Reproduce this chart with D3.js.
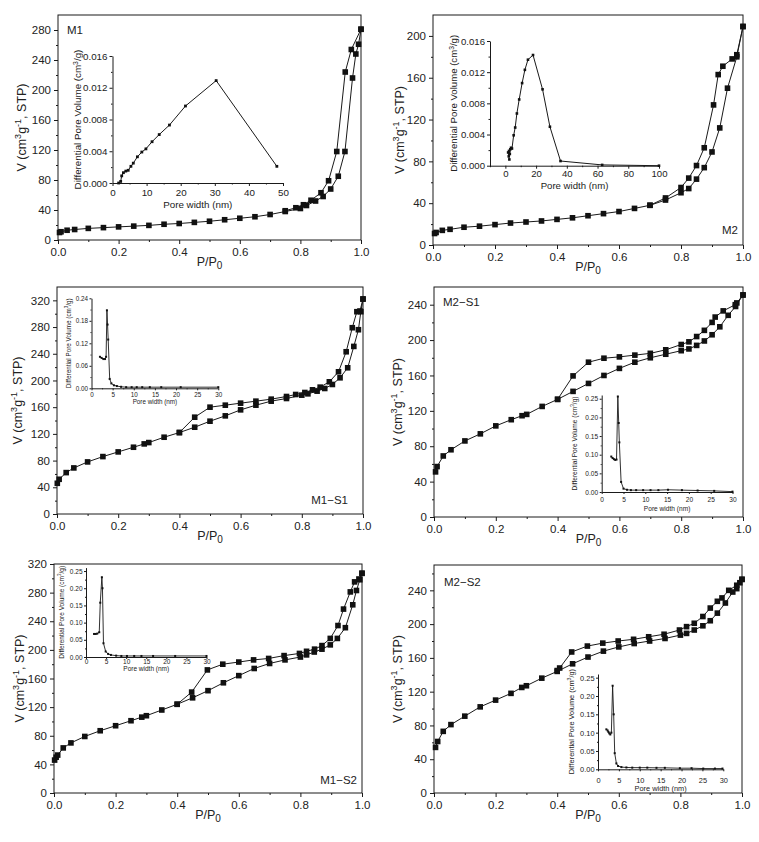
<!DOCTYPE html>
<html><head><meta charset="utf-8">
<script src="https://cdn.jsdelivr.net/npm/d3@7"></script>
<style>
body{margin:0;background:#fff}
svg{display:block}
text{font-family:"Liberation Sans",Arial,sans-serif;fill:#222}
</style>
</head><body>
<svg id="c" width="759" height="842"></svg>
<script>
// ---------- Isotherm data: [P/P0, V (cm3/g STP)] ----------
const m1Ads = [[0.005,10],[0.01,11],[0.03,13],[0.055,14],[0.1,15.5],[0.15,16.5],[0.2,17.5],[0.25,18.5],[0.3,19.5],[0.35,21],[0.4,22],[0.45,23.5],[0.5,25],[0.55,27],[0.6,29],[0.65,31],[0.7,34],[0.75,38],[0.8,42],[0.82,46],[0.85,52],[0.875,58],[0.9,68],[0.925,85],[0.947,118],[0.972,216],[0.983,248],[0.992,261],[1.0,281]];
const m1Des = [[1.0,281],[0.968,254],[0.948,224],[0.92,118],[0.893,79],[0.868,63],[0.835,53],[0.81,47],[0.785,43],[0.75,39]];

const m2Ads = [[0.005,11],[0.01,12],[0.03,14],[0.055,15],[0.1,17],[0.15,18],[0.2,19.5],[0.25,21],[0.3,22],[0.35,23],[0.4,24.5],[0.45,26],[0.5,28],[0.55,30],[0.6,32],[0.65,35],[0.7,38],[0.75,43],[0.8,50],[0.825,54],[0.85,63],[0.875,74],[0.9,89],[0.925,112],[0.95,150],[0.98,180],[1.0,209]];
const m2Des = [[1.0,209],[0.98,182],[0.965,178],[0.935,171],[0.92,163],[0.905,134],[0.875,93],[0.85,76],[0.825,64],[0.8,55],[0.75,45],[0.7,38]];

const m1s1Ads = [[0.001,46],[0.007,52],[0.03,62],[0.055,69],[0.1,78],[0.15,86],[0.2,93],[0.25,100],[0.285,105],[0.3,107],[0.35,115],[0.4,122],[0.45,130],[0.5,139],[0.55,147],[0.6,156],[0.65,163],[0.7,169],[0.75,173],[0.8,178],[0.82,180],[0.85,184],[0.875,188],[0.9,194],[0.925,204],[0.95,219],[0.97,251],[0.985,276],[0.993,303],[1.0,322]];
const m1s1Des = [[1.0,322],[0.99,304],[0.98,303],[0.965,279],[0.945,243],[0.92,213],[0.89,198],[0.86,190],[0.835,186],[0.81,182],[0.78,179],[0.75,176],[0.7,172],[0.65,169],[0.6,166],[0.55,163],[0.5,160],[0.45,145],[0.4,122]];

const m2s1Ads = [[0.005,51],[0.01,57],[0.03,69],[0.055,76],[0.1,86],[0.15,94],[0.2,103],[0.25,110],[0.285,114.5],[0.3,116],[0.35,125],[0.4,133],[0.45,142],[0.5,151],[0.55,160],[0.6,168],[0.65,175],[0.7,180],[0.75,184],[0.8,188],[0.825,190],[0.85,194],[0.875,199],[0.9,206],[0.925,215],[0.952,228],[0.976,238],[1.0,251]];
const m2s1Des = [[1.0,251],[0.98,242],[0.975,240],[0.936,233],[0.91,226],[0.9,220],[0.875,211],[0.85,204],[0.825,198],[0.8,195],[0.75,189],[0.7,185],[0.65,183],[0.6,181],[0.55,179.5],[0.5,175],[0.45,159.5],[0.4,133]];

const m1s2Ads = [[0.002,46],[0.007,50],[0.012,53],[0.03,63],[0.055,70],[0.1,79],[0.15,87],[0.2,94],[0.25,101],[0.285,106],[0.3,108],[0.35,116],[0.4,124],[0.45,133],[0.5,143],[0.55,154],[0.6,164],[0.65,174],[0.7,181],[0.75,186],[0.8,190],[0.82,193],[0.845,197],[0.87,201],[0.897,207],[0.92,216],[0.946,231],[0.97,263],[0.982,283],[0.993,298],[1.0,307]];
const m1s2Des = [[1.0,307],[0.99,299],[0.976,295],[0.962,281],[0.94,257],[0.922,234],[0.897,216],[0.87,206],[0.846,201],[0.82,198],[0.797,195],[0.747,192],[0.697,188],[0.648,186],[0.6,183],[0.548,180],[0.498,172],[0.447,141],[0.4,124]];

const m2s2Ads = [[0.005,54],[0.012,61],[0.03,73],[0.055,81],[0.1,91],[0.15,102],[0.2,110],[0.25,118],[0.285,125],[0.3,127],[0.35,136],[0.4,144],[0.45,153],[0.5,161],[0.55,168],[0.6,173],[0.65,177],[0.7,180],[0.75,183],[0.8,187],[0.82,189],[0.845,193],[0.873,198],[0.897,204],[0.92,213],[0.946,225],[0.97,238],[0.983,242],[0.993,249],[1.0,253]];
const m2s2Des = [[1.0,253],[0.983,246],[0.957,240],[0.935,231],[0.92,227],[0.897,219],[0.873,209],[0.845,201],[0.82,197],[0.797,193],[0.747,188],[0.697,185],[0.648,182],[0.598,180],[0.548,177.5],[0.498,174],[0.447,167],[0.408,148],[0.4,145]];

// ---------- Pore size distribution data: [pore width (nm), dV (cm3/g)] ----------
const m1Psd = [[1.8,0],[2.4,0.0002],[2.7,0.0009],[3.2,0.0013],[3.9,0.0015],[4.6,0.0016],[5.4,0.0021],[6.1,0.0025],[7.3,0.0033],[8.6,0.0039],[9.8,0.0043],[11.6,0.0052],[13.7,0.0061],[16.7,0.0073],[21.4,0.0097],[30.4,0.0129],[48.2,0.0021]];
const m2Psd = [[2.6,0.0008],[2.2,0.0012],[1.8,0.0017],[2.4,0.0019],[2.9,0.0015],[3.2,0.0021],[3.7,0.0023],[4.3,0.0022],[5.4,0.0039],[6.4,0.0049],[7.5,0.0067],[9.0,0.0085],[10.9,0.0106],[12.7,0.0123],[14.7,0.0136],[18.0,0.0142],[24.2,0.0098],[29.0,0.0050],[35.9,0.0006],[63,0.0001],[100,0.0]];
const m1s1Psd = [[2.0,0.084],[2.4,0.081],[2.8,0.078],[3.2,0.078],[3.45,0.084],[3.65,0.208],[3.8,0.17],[3.95,0.13],[4.3,0.025],[4.7,0.013],[5.3,0.008],[6.0,0.006],[7.0,0.004],[8.2,0.003],[9.5,0.003],[10.7,0.003],[12.0,0.003],[13.8,0.003],[16.5,0.003],[21.1,0.003],[30,0.003]];
const m2s1Psd = [[2.2,0.095],[2.5,0.091],[2.8,0.088],[3.1,0.086],[3.4,0.087],[3.7,0.256],[3.9,0.185],[4.05,0.133],[4.45,0.027],[5.0,0.009],[5.8,0.006],[6.7,0.005],[7.9,0.005],[9.5,0.005],[11.2,0.005],[13.0,0.005],[15.2,0.006],[18.4,0.005],[22.0,0.004],[25.8,0.003],[30,0.001]];
const m1s2Psd = [[2.0,0.067],[2.4,0.067],[2.8,0.068],[3.3,0.072],[3.55,0.158],[3.95,0.232],[4.1,0.2],[4.35,0.04],[4.9,0.016],[5.5,0.009],[6.2,0.006],[7.5,0.004],[8.8,0.003],[10.2,0.003],[12,0.003],[13.8,0.003],[16.7,0.003],[22.2,0.003],[30,0.003]];
const m2s2Psd = [[2.0,0.109],[2.3,0.106],[2.5,0.102],[2.7,0.098],[2.95,0.095],[3.2,0.1],[3.5,0.228],[3.75,0.15],[4.0,0.044],[4.4,0.016],[4.8,0.009],[5.6,0.006],[6.8,0.005],[8.2,0.0045],[10,0.0045],[11.8,0.0045],[14,0.004],[16,0.004],[19.6,0.003],[22.4,0.003],[25.2,0.002],[28,0.002],[29.8,0.002]];

// ---------- Tick labels ----------
const mainXTicks = [0,0.2,0.4,0.6,0.8,1.0];
const yTicks320 = [0,40,80,120,160,200,240,280,320];
const yTicks280 = [0,40,80,120,160,200,240,280];
const yTicks240 = [0,40,80,120,160,200,240];
const yTicks200 = [0,40,80,120,160,200];
const psdY016 = [0,0.004,0.008,0.012,0.016];
const psdY024 = [0,0.06,0.12,0.18,0.24];
const psdY025 = [0,0.05,0.10,0.15,0.20,0.25];
const pw50 = [0,10,20,30,40,50];
const pw100 = [0,20,40,60,80,100];
const pw30 = [0,5,10,15,20,25,30];
const sampleNames = ["M1","M2","M1\u2212S1","M2\u2212S1","M1\u2212S2","M2\u2212S2"];

// ---------- Layout ----------
const panels = [
 {ads:m1Ads, des:m1Des, yTicks:yTicks280, yMax:300, L:58, R:361, T:15, B:240, tag:sampleNames[0], tagX:67, tagY:34, tagA:"start", ytX:22,
  ins:{d:m1Psd, xDom:[0,50], xTicks:pw50, xMin:5, yDom:[0,0.016], yTicks:psdY016, yMin:0.002, fmt:".3f", L:112.5, R:283, T:56, B:183, fs:9.8, ytX:78, xtlY:196, xtY:207.5, ms:2.8}},
 {ads:m2Ads, des:m2Des, yTicks:yTicks200, yMax:220, L:433, R:743, T:15, B:245, tag:sampleNames[1], tagX:738, tagY:234, tagA:"end", ytX:400,
  ins:{d:m2Psd, xDom:[-10,100], xTicks:pw100, xMin:10, yDom:[0,0.016], yTicks:psdY016, yMin:0.002, fmt:".3f", L:490, R:659, T:41, B:165.7, fs:9.6, ytX:454, xtlY:177, xtY:189, ms:2.6}},
 {ads:m1s1Ads, des:m1s1Des, yTicks:yTicks320, yMax:340, L:57, R:363, T:287, B:514, tag:sampleNames[2], tagX:348, tagY:504, tagA:"end", ytX:18,
  ins:{d:m1s1Psd, xDom:[0,30], xTicks:pw30, xMin:2.5, yDom:[0,0.24], yTicks:psdY024, yMin:0.03, fmt:".2f", L:91.5, R:218.3, T:298.3, B:388.3, fs:6.3, ytX:68.5, xtlY:396.5, xtY:404, ms:2}},
 {ads:m2s1Ads, des:m2s1Des, yTicks:yTicks240, yMax:260, L:434, R:743, T:287, B:517, tag:sampleNames[3], tagX:443, tagY:306, tagA:"start", ytX:398,
  ins:{d:m2s1Psd, xDom:[0,30], xTicks:pw30, xMin:2.5, yDom:[0,0.26], yTicks:psdY025, yMin:0.025, fmt:".2f", L:601.7, R:732.5, T:395, B:492, fs:6.6, ytX:574.5, xtlY:501.5, xtY:510.5, ms:2}},
 {ads:m1s2Ads, des:m1s2Des, yTicks:yTicks320, yMax:320, L:54, R:362, T:564, B:793, tag:sampleNames[4], tagX:357, tagY:784, tagA:"end", ytX:20,
  ins:{d:m1s2Psd, xDom:[0,30], xTicks:pw30, xMin:2.5, yDom:[0,0.26], yTicks:psdY025, yMin:0.025, fmt:".2f", L:86, R:206.5, T:567.6, B:657, fs:6.5, ytX:61.5, xtlY:664, xtY:671, ms:2}},
 {ads:m2s2Ads, des:m2s2Des, yTicks:yTicks240, yMax:270, L:434, R:742, T:565, B:793, tag:sampleNames[5], tagX:444, tagY:586, tagA:"start", ytX:398,
  ins:{d:m2s2Psd, xDom:[0,30], xTicks:pw30, xMin:2.5, yDom:[0,0.26], yTicks:psdY025, yMin:0.025, fmt:".2f", L:598, R:723.3, T:674, B:769.3, fs:7.4, ytX:571.5, xtlY:782.5, xtY:790.5, ms:2}}
];

const svg = d3.select("#c");
const INK = "#1a1a1a";

function styleAxis(g, fs){
  g.selectAll("text").attr("font-size", fs).attr("font-family",'"Liberation Sans",Arial,sans-serif').attr("fill","#222");
  g.selectAll("line").attr("stroke", INK);
  g.selectAll(".domain").attr("stroke", INK);
}

function drawPanel(p){
  const x = d3.scaleLinear().domain([0,1]).range([p.L,p.R]);
  const y = d3.scaleLinear().domain([0,p.yMax]).range([p.B,p.T]);
  const g = svg.append("g");

  // minor ticks
  const yMinorVals = d3.range(20, p.yMax, 40);
  const gy2 = g.append("g").attr("transform",`translate(${p.L},0)`)
    .call(d3.axisLeft(y).tickValues(yMinorVals).tickSize(2).tickFormat(""));
  gy2.select(".domain").remove(); styleAxis(gy2, 11);
  const gx2 = g.append("g").attr("transform",`translate(0,${p.B})`)
    .call(d3.axisBottom(x).tickValues([0.1,0.3,0.5,0.7,0.9]).tickSize(2).tickFormat(""));
  gx2.select(".domain").remove(); styleAxis(gx2, 11);

  // major axes
  const gy = g.append("g").attr("transform",`translate(${p.L},0)`)
    .call(d3.axisLeft(y).tickValues(p.yTicks).tickSize(4).tickPadding(3).tickFormat(d3.format("d")));
  gy.select(".domain").remove(); styleAxis(gy, 11.5);
  const gx = g.append("g").attr("transform",`translate(0,${p.B})`)
    .call(d3.axisBottom(x).tickValues(mainXTicks).tickSize(4).tickPadding(4).tickFormat(d3.format(".1f")));
  gx.select(".domain").remove(); styleAxis(gx, 11.5);

  // frame
  g.append("rect").attr("x",p.L).attr("y",p.T).attr("width",p.R-p.L).attr("height",p.B-p.T)
    .attr("fill","none").attr("stroke",INK).attr("stroke-width",1);

  // inset first (under isotherm lines where overlapping)
  drawInset(g, p.ins);

  // isotherm lines
  const line = d3.line().x(d=>x(d[0])).y(d=>y(d[1]));
  [p.ads, p.des].forEach(s=>{
    g.append("path").attr("d", line(s)).attr("fill","none").attr("stroke",INK).attr("stroke-width",1);
    g.selectAll(null).data(s).enter().append("rect")
      .attr("x",d=>x(d[0])-2.8).attr("y",d=>y(d[1])-2.8).attr("width",5.6).attr("height",5.6).attr("fill","#111");
  });

  // sample tag
  g.append("text").attr("x",p.tagX).attr("y",p.tagY).attr("text-anchor",p.tagA).attr("font-size",11.5).text(p.tag);

  // y title
  const cy = (p.T+p.B)/2;
  const yt = g.append("text").attr("transform",`translate(${p.ytX},${cy}) rotate(-90)`)
    .attr("text-anchor","middle").attr("dy","0.35em").attr("font-size",12.5);
  yt.append("tspan").text("V (cm");
  yt.append("tspan").attr("dy",-5).attr("font-size",9).text("3");
  yt.append("tspan").attr("dy",5).text("g");
  yt.append("tspan").attr("dy",-5).attr("font-size",9).text("-1");
  yt.append("tspan").attr("dy",5).text(", STP)");

  // x title
  const xt = g.append("text").attr("x",(p.L+p.R)/2).attr("y",p.B+26).attr("text-anchor","middle").attr("font-size",12.5);
  xt.append("tspan").text("P/P");
  xt.append("tspan").attr("dy",3).attr("font-size",10).text("0");
}

function drawInset(g, s){
  const x = d3.scaleLinear().domain(s.xDom).range([s.L,s.R]);
  const y = d3.scaleLinear().domain(s.yDom).range([s.B,s.T]);
  const gi = g.append("g");
  const big = s.fs > 8;
  const tMaj = big ? 3 : 2, tMin = big ? 1.5 : 1;

  // minor ticks
  const xMinorVals = d3.range(s.xDom[0], s.xDom[1]+1e-9, s.xMin).filter(v=>!s.xTicks.some(t=>Math.abs(t-v)<1e-9));
  const yMinorVals = d3.range(s.yDom[0], s.yDom[1]+1e-9, s.yMin).filter(v=>!s.yTicks.some(t=>Math.abs(t-v)<1e-9));
  const gx2 = gi.append("g").attr("transform",`translate(0,${s.B})`)
    .call(d3.axisBottom(x).tickValues(xMinorVals).tickSize(tMin).tickFormat(""));
  gx2.select(".domain").remove(); styleAxis(gx2, s.fs);
  const gy2 = gi.append("g").attr("transform",`translate(${s.L},0)`)
    .call(d3.axisLeft(y).tickValues(yMinorVals).tickSize(tMin).tickFormat(""));
  gy2.select(".domain").remove(); styleAxis(gy2, s.fs);

  const gx = gi.append("g").attr("transform",`translate(0,${s.B})`)
    .call(d3.axisBottom(x).tickValues(s.xTicks).tickSize(tMaj).tickSizeOuter(0).tickPadding(1).tickFormat(d3.format("d")));
  styleAxis(gx, s.fs);
  gx.selectAll(".tick text").attr("y", null).attr("dy", null)
    .attr("transform", `translate(0,${s.xtlY - s.B})`).attr("dominant-baseline","auto");
  const gy = gi.append("g").attr("transform",`translate(${s.L},0)`)
    .call(d3.axisLeft(y).tickValues(s.yTicks).tickSize(tMaj).tickSizeOuter(0).tickPadding(big?2:1.5).tickFormat(d3.format(s.fmt)));
  styleAxis(gy, s.fs);

  // line + markers
  const line = d3.line().x(d=>x(d[0])).y(d=>y(d[1]));
  gi.append("path").attr("d", line(s.d)).attr("fill","none").attr("stroke",INK).attr("stroke-width",big?1:0.9);
  gi.selectAll(null).data(s.d).enter().append("rect")
    .attr("x",d=>x(d[0])-s.ms/2).attr("y",d=>y(d[1])-s.ms/2).attr("width",s.ms).attr("height",s.ms).attr("fill","#111");

  // titles
  gi.append("text").attr("x",(s.L+s.R)/2).attr("y",s.xtY).attr("text-anchor","middle").attr("font-size",s.fs).text("Pore width (nm)");
  const yt = gi.append("text").attr("transform",`translate(${s.ytX},${(s.T+s.B)/2}) rotate(-90)`)
    .attr("text-anchor","middle").attr("dy","0.35em").attr("font-size",s.fs);
  yt.append("tspan").text("Differential Pore Volume (cm");
  yt.append("tspan").attr("dy",-s.fs*0.4).attr("font-size",s.fs*0.7).text("3");
  yt.append("tspan").attr("dy",s.fs*0.4).text("/g)");
}

panels.forEach(drawPanel);
</script>
</body></html>
